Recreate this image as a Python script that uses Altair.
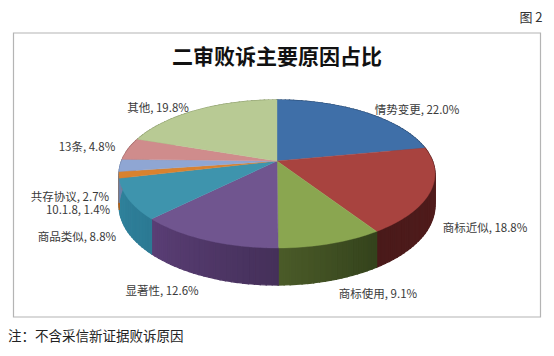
import math
import altair as alt
import pandas as pd

categories = ["情势变更", "商标近似", "商标使用", "显著性", "商品类似", "10.1.8", "共存协议", "13条", "其他"]
shares = [22.0, 18.8, 9.1, 12.6, 8.8, 1.4, 2.7, 4.8, 19.8]
top_colors = ["#3f6fa8", "#a8433f", "#8aa650", "#70558f", "#3e94ad", "#d9822f", "#8fa6d3", "#cf8c8c", "#b8ca94"]
side_left = ["#2a4a70", "#4a1a1a", "#4a5a28", "#5a3e75", "#30829c", "#a8601e", "#6a80a8", "#a06868", "#8a9a6a"]
side_right = ["#2a4a70", "#551d1d", "#34431c", "#45305a", "#2c7a94", "#a8601e", "#6a80a8", "#a06868", "#8a9a6a"]

W, H = 538, 340
CX, CY = 277, 161      # page position of the pie's apex
A, B, K = 155.5, 71.7, 0.1757   # perspective of the tilted disc
DEPTH = 30.5


def project(theta):
    X, Y = math.sin(theta), math.cos(theta)
    w = 1 + K * Y
    return CX + A * X / w, CY - B * Y / w, DEPTH / w


def mix(c1, c2, t):
    a = [int(c1[i:i + 2], 16) for i in (1, 3, 5)]
    b = [int(c2[i:i + 2], 16) for i in (1, 3, 5)]
    return "#" + "".join(f"{round(p + (q - p) * t):02x}" for p, q in zip(a, b))


top_rows, side_rows = [], []
cum = 0.0
for i, (cat, share) in enumerate(zip(categories, shares)):
    t0 = cum / 100 * 2 * math.pi
    cum += share
    t1 = cum / 100 * 2 * math.pi
    n = max(3, int(share * 2))
    angles = [t0 + (t1 - t0) * j / n for j in range(n + 1)]
    pid = f"top{i}"
    top_rows.append(dict(id=pid, o=0, x=CX, y=CY, c=top_colors[i]))
    for j, th in enumerate(angles):
        x, y, _ = project(th)
        top_rows.append(dict(id=pid, o=j + 1, x=x, y=y, c=top_colors[i]))
    for j in range(n):
        x0, y0, d0 = project(angles[j])
        x1, y1, d1 = project(angles[j + 1])
        col = mix(side_right[i], side_left[i], j / max(n - 1, 1))
        sid = f"s{i}_{j}"
        for o, (px, py) in enumerate([(x0, y0), (x1, y1), (x1, y1 + d1), (x0, y0 + d0)]):
            side_rows.append(dict(id=sid, o=o, x=px, y=py, c=col))

x_scale = alt.Scale(domain=[8, 8 + W], range=[0, W], nice=False, zero=False)
y_scale = alt.Scale(domain=[8, 8 + H], range=[0, H], nice=False, zero=False)


def polygons(rows, width):
    return alt.Chart(pd.DataFrame(rows)).mark_line(interpolate="linear-closed", strokeWidth=width).encode(
        x=alt.X("x:Q", scale=x_scale, axis=None),
        y=alt.Y("y:Q", scale=y_scale, axis=None),
        order="o:Q",
        detail="id:N",
        fill=alt.Fill("c:N", scale=None),
        stroke=alt.Stroke("c:N", scale=None),
    )


def text(label, x, y, size, font="Noto Sans CJK SC", weight="normal", color="#3a3a3a", align="center"):
    return alt.Chart(pd.DataFrame({"t": [label]})).mark_text(
        fontSize=size, font=font, fontWeight=weight, color=color, align=align, baseline="middle"
    ).encode(text="t:N", x=alt.value(x - 8), y=alt.value(y - 8))


frame = alt.Chart(pd.DataFrame({"a": [0]})).mark_rect(fill="white", stroke="#b4b4b4", strokeWidth=1.2).encode(
    x=alt.value(13.5 - 8), x2=alt.value(540.5 - 8), y=alt.value(33 - 8), y2=alt.value(317 - 8)
)

label_text = {c: f"{c}, {s}%" for c, s in zip(categories, shares)}
label_spots = {
    "情势变更": (417, 111), "商标近似": (485, 229), "商标使用": (378, 295),
    "显著性": (162, 292), "商品类似": (77, 238), "10.1.8": (78, 210.5),
    "共存协议": (70, 197.5), "13条": (87, 148), "其他": (158, 109),
}
labels = [text(label_text[c], *label_spots[c], 11.5) for c in categories]

chart = alt.layer(
    frame,
    polygons(side_rows, 1.3),
    polygons(top_rows, 0.4),
    text("二审败诉主要原因占比", 277, 58, 21, weight="bold", color="#111111"),
    text("图 2", 531, 18, 13, color="#333333"),
    text("注：不含采信新证据败诉原因", 8, 337, 13.5, color="#222222", align="left"),
    *labels,
).properties(width=W, height=H, padding=0, background="white").configure_view(stroke=None)

chart.save("out.html", embed_options={"renderer": "svg", "actions": False})
